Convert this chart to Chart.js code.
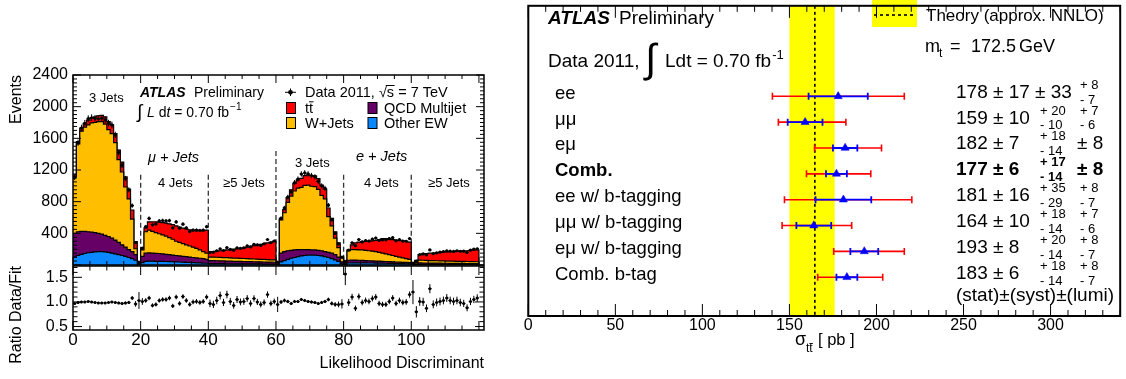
<!DOCTYPE html>
<html>
<head>
<meta charset="utf-8">
<title>ATLAS Preliminary – Likelihood discriminant and ttbar cross-section</title>
<script src="https://cdn.jsdelivr.net/npm/chart.js@4.4.1/dist/chart.umd.min.js"></script>
<style>
  html, body { margin: 0; padding: 0; background: #fff; }
  body { width: 1126px; height: 379px; position: relative; overflow: hidden; }
  canvas { position: absolute; }
</style>
</head>
<body>
<canvas id="histMain" width="490" height="270" style="left:0;top:0"></canvas>
<canvas id="histRatio" width="490" height="117" style="left:0;top:262px"></canvas>
<canvas id="xsec" width="626" height="379" style="left:500px;top:0"></canvas>
<script>
// ======================= LEFT PANEL DATA =======================
// 120 bins of the likelihood discriminant: mu+jets (3j, 4j, >=5j), e+jets (3j, 4j, >=5j)
// Upper edges of each stacked component.
const stackTotal = [
  1140,1560,1730,1790,1830,1860,1870,1885,1890,1870,1810,1770,1660,1450,1300,1115,960,695,295,35,
  210,470,545,545,545,540,535,530,520,510,495,480,465,455,445,440,435,440,435,440,
  165,170,175,180,185,190,195,200,205,210,215,225,235,245,255,260,270,280,290,300,
  40,590,700,850,950,1030,1075,1095,1130,1140,1130,1125,1090,1010,960,720,590,420,280,105,
  30,190,255,280,290,295,300,300,305,310,320,335,335,330,320,315,310,305,300,290,
  20,60,130,140,145,150,150,155,160,165,165,170,170,175,175,180,180,185,190,190
];
const wjetsTop = [
  1120,1530,1690,1740,1770,1795,1800,1810,1810,1780,1710,1660,1545,1330,1175,985,835,580,205,28,
  190,420,440,425,410,395,380,365,345,325,300,285,270,255,240,225,210,190,170,150,
  100,100,98,96,94,92,90,88,86,84,82,80,78,76,74,72,70,68,66,64,
  38,570,660,790,870,935,970,980,1005,1010,995,990,955,880,835,610,495,340,220,85,
  18,180,195,195,190,190,185,180,175,170,160,150,140,130,120,110,100,90,80,70,
  12,35,62,60,58,56,55,54,53,52,50,49,48,47,46,45,44,43,42,41
];
const qcdTop = [
  400,420,425,425,420,415,410,400,390,375,360,340,315,285,255,225,195,170,130,22,
  110,150,152,150,148,145,140,135,130,125,120,115,110,105,100,95,90,85,80,70,
  55,55,54,53,52,50,48,47,46,45,44,43,42,41,40,39,38,37,36,35,
  25,150,170,180,185,190,195,195,195,195,190,190,185,180,170,160,150,130,100,40,
  10,60,62,62,60,58,56,54,52,50,48,46,44,42,40,38,36,34,32,30,
  5,15,26,25,25,24,24,23,23,22,22,21,21,20,20,20,19,19,18,18
];
const otherEWTop = [
  100,120,135,145,155,160,165,168,168,165,160,150,140,130,120,108,95,80,60,10,
  30,45,48,48,47,46,45,44,43,42,40,38,36,34,32,30,28,26,24,22,
  18,18,18,17,17,16,16,15,15,15,14,14,14,13,13,13,12,12,12,12,
  8,40,55,70,85,95,105,115,120,125,125,125,120,115,105,95,80,65,45,15,
  4,25,27,27,27,26,26,25,25,24,24,23,22,21,20,19,18,17,16,15,
  2,5,9,9,9,9,8,8,8,8,8,8,8,7,7,7,7,7,7,7
];
// Data / fit ratio per bin (lower pad)
const ratioDataFit = [
  0.97,0.99,1.00,1.00,1.01,1.00,0.99,0.98,0.98,0.98,0.99,1.00,0.99,0.98,0.97,0.98,0.99,1.08,0.96,1.03,
  1.01,1.03,1.08,0.93,0.95,1.03,1.05,1.05,1.08,0.92,1.10,0.97,1.11,1.03,0.95,1.00,1.01,0.99,1.01,1.10,
  0.97,0.95,1.03,1.13,0.99,1.15,1.01,0.93,1.05,1.00,1.01,1.07,0.97,1.07,1.00,0.95,0.99,1.15,0.97,1.01,
  0.95,1.00,1.03,1.01,0.97,1.01,1.01,1.05,1.03,1.01,1.00,0.99,0.97,0.99,1.01,1.05,0.97,0.95,0.95,0.96,
  1.57,0.99,1.10,0.87,1.11,0.99,1.03,1.01,1.07,1.10,0.97,0.95,0.95,1.01,1.08,0.97,1.03,0.99,1.00,1.15,
  1.20,0.80,1.01,1.00,0.87,1.27,0.95,0.99,1.01,1.03,1.08,1.03,1.01,1.03,0.99,0.97,0.88,1.01,1.05,1.08
];
const regionDividers = [20, 40, 60, 80, 100];
const dividerTops    = [1140, 1140, 1440, 1140, 1140];
const lhXTickLabels  = [0, 20, 40, 60, 80, 100];
const eventTickLabels = [400, 800, 1200, 1600, 2000, 2400];
const ratioTickLabels = [0.5, 1.0, 1.5];

// ======================= RIGHT PANEL DATA =======================
const channels   = ['ee', 'μμ', 'eμ', 'Comb.', 'ee w/ b-tagging', 'μμ w/ b-tagging', 'eμ w/ b-tagging', 'Comb. b-tag'];
const boldRows   = [3];
const xsec       = [178, 159, 182, 177, 181, 164, 193, 183];
const statErr    = [17, 10, 7, 6, 16, 10, 8, 6];
const systUp     = [33, 20, 18, 17, 35, 18, 20, 18];
const systDown   = [33, 10, 14, 14, 29, 14, 14, 14];
const lumiUp     = [8, 7, 8, 8, 8, 7, 8, 8];
const lumiDown   = [7, 6, 8, 8, 7, 6, 7, 7];
const theoryCentral = 164.6;
const theoryLow  = 150;
const theoryHigh = 176;
const xsecTickLabels = [0, 50, 100, 150, 200, 250, 300];

// ======================= COMMON =======================
const FONT = "'Liberation Sans', Arial, Helvetica, sans-serif";
Chart.defaults.font.family = FONT;
Chart.defaults.font.size = 16;
Chart.defaults.color = '#000';
Chart.defaults.animation = false;
Chart.defaults.events = [];
Chart.defaults.plugins.legend.display = false;
Chart.defaults.plugins.tooltip.enabled = false;

const C_TT = '#ff0000', C_W = '#ffbe00', C_QCD = '#660066', C_EW = '#0a88ff';

function put(ctx, s, x, y, size, style = '', color = '#000') {
  ctx.font = (style ? style + ' ' : '') + size + 'px ' + FONT;
  ctx.fillStyle = color;
  ctx.textAlign = 'left';
  ctx.textBaseline = 'alphabetic';
  ctx.fillText(s, x, y);
  return x + ctx.measureText(s).width;
}

// ROOT-like frame with inward ticks on all sides
const rootAxes = {
  id: 'rootAxes',
  afterDatasetsDraw(chart, args, o) {
    const {ctx, chartArea: a} = chart;
    const xs = chart.scales.x, ys = chart.scales.y;
    const isMul = (v, m) => Math.abs(v / m - Math.round(v / m)) < 1e-6;
    ctx.save();
    ctx.strokeStyle = '#000';
    ctx.lineWidth = o.tickWidth || 1;
    ctx.beginPath();
    if (o.xMinor) {
      for (let n = Math.ceil(xs.min / o.xMinor - 1e-9); n * o.xMinor <= xs.max + 1e-9; n++) {
        const v = n * o.xMinor, p = xs.getPixelForValue(v);
        const L = isMul(v, o.xMajor) ? o.xMajLen : o.xMinLen;
        ctx.moveTo(p, a.bottom); ctx.lineTo(p, a.bottom - L);
        ctx.moveTo(p, a.top); ctx.lineTo(p, a.top + L);
      }
    }
    if (o.yMinor) {
      for (let n = Math.ceil(ys.min / o.yMinor - 1e-9); n * o.yMinor <= ys.max + 1e-9; n++) {
        const v = n * o.yMinor, p = ys.getPixelForValue(v);
        const L = isMul(v, o.yMajor) ? o.yMajLen : o.yMinLen;
        ctx.moveTo(a.left, p); ctx.lineTo(a.left + L, p);
        ctx.moveTo(a.right, p); ctx.lineTo(a.right - L, p);
      }
    }
    ctx.stroke();
    ctx.lineWidth = o.frameWidth || 1.5;
    ctx.strokeRect(a.left, a.top, a.right - a.left, a.bottom - a.top);
    ctx.restore();
  }
};

const mkSteps = arr => arr.map((v, i) => ({x: i, y: v})).concat([{x: arr.length, y: 0}]);
function hBars(vals) {
  const d = [];
  vals.forEach((v, i) => d.push({x: i, y: v}, {x: i + 1, y: v}, {x: i + 1, y: null}));
  return d;
}
function vBars(vals, errs) {
  const d = [];
  vals.forEach((v, i) => d.push({x: i + 0.5, y: v - errs[i]}, {x: i + 0.5, y: v + errs[i]}, {x: i + 0.5, y: null}));
  return d;
}

const dataCounts = stackTotal.map((t, i) => t * ratioDataFit[i]);
const dataErr = dataCounts.map(v => Math.sqrt(v));
const ratioErr = dataErr.map((e, i) => e / stackTotal[i]);

// ======================= LEFT: MAIN PAD =======================
const leftText = {
  id: 'leftText',
  beforeDatasetsDraw(chart) {
    const {ctx, chartArea: a, scales: {x, y}} = chart;
    ctx.save();
    ctx.strokeStyle = '#333';
    ctx.lineWidth = 1.3;
    ctx.setLineDash([5, 3]);
    regionDividers.forEach((d, k) => {
      const px = x.getPixelForValue(d);
      ctx.beginPath();
      ctx.moveTo(px, y.getPixelForValue(dividerTops[k]));
      ctx.lineTo(px, a.bottom);
      ctx.stroke();
    });
    ctx.restore();
  },
  afterDraw(chart) {
    const {ctx} = chart;
    ctx.save();
    put(ctx, 'ATLAS', 140, 97, 14, 'italic bold');
    put(ctx, 'Preliminary', 194, 97, 14);
    put(ctx, '∫', 137, 118, 19);
    let e = put(ctx, 'L', 147, 116.7, 14, 'italic');
    e = put(ctx, ' d', e, 116.7, 14);
    e = put(ctx, 't', e, 116.7, 14, 'italic');
    e = put(ctx, ' = 0.70 fb', e, 116.7, 14);
    put(ctx, '−1', e + 1, 110, 10);
    put(ctx, '3 Jets', 89, 101.7, 13);
    put(ctx, 'μ + Jets', 148, 161.7, 14.5, 'italic');
    put(ctx, '4 Jets', 158, 186.7, 13);
    put(ctx, '≥5 Jets', 223, 186.7, 13);
    put(ctx, '3 Jets', 295, 167.3, 13);
    put(ctx, 'e + Jets', 356, 161, 14.5, 'italic');
    put(ctx, '4 Jets', 364, 186.7, 13);
    put(ctx, '≥5 Jets', 428, 186.7, 13);
    // legend
    ctx.strokeStyle = '#000';
    ctx.lineWidth = 1;
    ctx.beginPath();
    ctx.moveTo(285, 92.3); ctx.lineTo(296, 92.3);
    ctx.moveTo(290.5, 88.5); ctx.lineTo(290.5, 96);
    ctx.stroke();
    ctx.fillStyle = '#000';
    ctx.beginPath(); ctx.arc(290.5, 92.3, 2.4, 0, 2 * Math.PI); ctx.fill();
    e = put(ctx, 'Data 2011, ', 305, 97, 14.5);
    const sq = put(ctx, '√', e, 97, 14.5);
    const se = put(ctx, 's', sq, 97, 14.5);
    ctx.beginPath(); ctx.moveTo(sq - 1, 85.5); ctx.lineTo(se + 0.5, 85.5); ctx.stroke();
    put(ctx, ' = 7 TeV', se, 97, 14.5);
    const boxes = [[286.5, 102.5, C_TT], [368, 102.5, C_QCD], [286.5, 117.5, C_W], [368, 117.5, C_EW]];
    boxes.forEach(([bx, by, c]) => {
      ctx.fillStyle = c; ctx.fillRect(bx, by, 9, 11);
      ctx.strokeStyle = '#000'; ctx.strokeRect(bx, by, 9, 11);
    });
    const t1 = put(ctx, 't', 305, 112.7, 14.5);
    const t2 = put(ctx, 't', t1, 112.7, 14.5);
    ctx.beginPath(); ctx.moveTo(t1, 101.8); ctx.lineTo(t2 + 0.5, 101.8); ctx.stroke();
    put(ctx, 'QCD Multijet', 384, 112.7, 14.5);
    put(ctx, 'W+Jets', 305, 128.3, 14.5);
    put(ctx, 'Other EW', 384, 128.3, 14.5);
    ctx.restore();
  }
};

const stepDs = (label, arr, color, order) => ({
  label, data: mkSteps(arr), stepped: true, fill: 'origin',
  backgroundColor: color, borderColor: '#000', borderWidth: 1.2,
  pointRadius: 0, order
});

new Chart(document.getElementById('histMain'), {
  type: 'line',
  data: {
    datasets: [
      {label: 'Data 2011', data: dataCounts.map((v, i) => ({x: i + 0.5, y: v})), showLine: false,
       pointRadius: 1.6, pointBackgroundColor: '#000', pointBorderWidth: 0, order: 0},
      {label: 'dataX', data: hBars(dataCounts), borderColor: '#000', borderWidth: 1, pointRadius: 0, order: 0},
      {label: 'dataY', data: vBars(dataCounts, dataErr), borderColor: '#000', borderWidth: 1, pointRadius: 0, order: 0},
      stepDs('Other EW', otherEWTop, C_EW, 1),
      stepDs('QCD Multijet', qcdTop, C_QCD, 2),
      stepDs('W+Jets', wjetsTop, C_W, 3),
      stepDs('ttbar', stackTotal, C_TT, 4)
    ]
  },
  options: {
    responsive: false, devicePixelRatio: 1,
    layout: {padding: {top: 75, right: 6, bottom: 5, left: 0}},
    scales: {
      x: {type: 'linear', min: 0, max: 121.5, display: false},
      y: {
        type: 'linear', min: 0, max: 2400,
        grid: {display: false, drawTicks: false}, border: {display: false},
        ticks: {stepSize: 400, padding: 5, font: {size: 16},
                callback: v => eventTickLabels.includes(v) ? String(v) : ''},
        title: {display: true, text: 'Events', align: 'end', font: {size: 16}, padding: {top: 7, bottom: 0}},
        afterFit: s => { s.width = 73; s.paddingTop = 0; s.paddingBottom = 0; }
      }
    },
    plugins: {
      rootAxes: {xMajor: 20, xMinor: 5, xMajLen: 8, xMinLen: 4, yMajor: 400, yMinor: 50, yMajLen: 8, yMinLen: 4, frameWidth: 1.5}
    }
  },
  plugins: [leftText, rootAxes]
});

// ======================= LEFT: RATIO PAD =======================
new Chart(document.getElementById('histRatio'), {
  type: 'line',
  data: {
    datasets: [
      {label: 'ratio', data: ratioDataFit.map((v, i) => ({x: i + 0.5, y: v})), showLine: false,
       pointRadius: 1.5, pointBackgroundColor: '#000', pointBorderWidth: 0, order: 0},
      {label: 'ratioX', data: hBars(ratioDataFit), borderColor: '#000', borderWidth: 1, pointRadius: 0, order: 1},
      {label: 'ratioY', data: vBars(ratioDataFit, ratioErr), borderColor: '#000', borderWidth: 1, pointRadius: 0, order: 1}
    ]
  },
  options: {
    responsive: false, devicePixelRatio: 1,
    layout: {padding: {top: 3, right: 6, bottom: 0, left: 0}},
    scales: {
      x: {
        type: 'linear', min: 0, max: 121.5,
        grid: {display: false, drawTicks: false}, border: {display: false},
        ticks: {stepSize: 20, includeBounds: false, padding: 0, maxRotation: 0, font: {size: 17},
                callback: v => lhXTickLabels.includes(v) ? String(v) : ''},
        title: {display: true, text: 'Likelihood Discriminant', align: 'end', font: {size: 16}, padding: {top: 0, bottom: 6}},
        afterFit: s => { s.height = 49; s.paddingLeft = 0; s.paddingRight = 0; }
      },
      y: {
        type: 'linear', min: 0.43, max: 1.73,
        grid: {display: false, drawTicks: false}, border: {display: false},
        ticks: {stepSize: 0.5, includeBounds: false, padding: 5, font: {size: 16},
                callback: v => ratioTickLabels.some(t => Math.abs(t - v) < 1e-6) ? v.toFixed(1) : ''},
        title: {display: true, text: 'Ratio Data/Fit', align: 'end', font: {size: 16}, padding: {top: 7, bottom: 0}},
        afterFit: s => { s.width = 73; s.paddingTop = 0; s.paddingBottom = 0; }
      }
    },
    plugins: {
      rootAxes: {xMajor: 20, xMinor: 5, xMajLen: 9, xMinLen: 4.5, yMajor: 0.5, yMinor: 0.1, yMajLen: 9, yMinLen: 4.5, frameWidth: 1.5}
    }
  },
  plugins: [rootAxes]
});

// ======================= RIGHT: CROSS-SECTION SUMMARY =======================
const rows = channels.map((_, k) => k);
const totHi = rows.map(k => xsec[k] + Math.hypot(statErr[k], systUp[k], lumiUp[k]));
const totLo = rows.map(k => xsec[k] - Math.hypot(statErr[k], systDown[k], lumiDown[k]));
const statHi = rows.map(k => xsec[k] + statErr[k]);
const statLo = rows.map(k => xsec[k] - statErr[k]);
function rowBars(lo, hi) {
  const d = [];
  rows.forEach(k => d.push({x: lo[k], y: k}, {x: hi[k], y: k}, {x: hi[k], y: null}));
  return d;
}
const OFF = 500;
const X = px => px - OFF;

const rightDeco = {
  id: 'rightDeco',
  beforeDatasetsDraw(chart) {
    const {ctx, chartArea: a, scales: {x}} = chart;
    ctx.save();
    ctx.fillStyle = '#ffff00';
    const l = x.getPixelForValue(theoryLow), r = x.getPixelForValue(theoryHigh);
    ctx.fillRect(l, a.top, r - l, a.bottom - a.top);
    ctx.fillRect(X(872), 0, 45, 27);
    ctx.strokeStyle = '#000';
    ctx.lineWidth = 1.6;
    ctx.setLineDash([3, 3]);
    const c = x.getPixelForValue(theoryCentral);
    ctx.beginPath(); ctx.moveTo(c, a.top); ctx.lineTo(c, a.bottom); ctx.stroke();
    ctx.beginPath(); ctx.moveTo(X(874), 15); ctx.lineTo(X(915), 15); ctx.stroke();
    ctx.restore();
  },
  afterDraw(chart) {
    const {ctx, scales: {y}} = chart;
    ctx.save();
    put(ctx, 'ATLAS', X(548), 24, 19, 'italic bold');
    put(ctx, 'Preliminary', X(619), 24, 19);
    put(ctx, 'Data 2011,', X(548), 67, 19);
    put(ctx, '∫', X(645), 72, 40);
    const e = put(ctx, 'Ldt = 0.70 fb', X(665), 67, 19);
    put(ctx, '-1', e + 1, 59, 13);
    put(ctx, 'Theory (approx. NNLO)', X(926), 21, 17);
    put(ctx, 'm', X(925), 51.7, 18);
    put(ctx, 't', X(939), 57, 12);
    put(ctx, '=', X(950), 51.7, 18);
    put(ctx, '172.5', X(971), 51.7, 18);
    put(ctx, 'GeV', X(1019), 51.7, 18);
    rows.forEach(k => {
      const yr = y.getPixelForValue(k);
      const st = boldRows.includes(k) ? 'bold' : '';
      put(ctx, channels[k], X(555), yr + 2.5, 18.5, st);
      let main = xsec[k] + ' ± ' + statErr[k];
      if (systUp[k] === systDown[k]) main += ' ± ' + systUp[k];
      put(ctx, main, X(956), yr + 1.5, 19, st);
      if (systUp[k] !== systDown[k]) {
        put(ctx, '+ ' + systUp[k], X(1040), yr - 7.5, 13, st);
        put(ctx, '- ' + systDown[k], X(1040), yr + 7.3, 13, st);
      }
      if (lumiUp[k] === lumiDown[k]) {
        put(ctx, '± ' + lumiUp[k], X(1077), yr + 1.5, 19, st);
      } else {
        put(ctx, '+ ' + lumiUp[k], X(1080), yr - 7.5, 13, st);
        put(ctx, '- ' + lumiDown[k], X(1080), yr + 7.3, 13, st);
      }
    });
    put(ctx, '(stat)±(syst)±(lumi)', X(956), 300.7, 19);
    // x-axis title  σ_{tt̄} [ pb ]
    put(ctx, 'σ', X(795), 345, 18);
    const a1 = put(ctx, 't', X(806), 352, 12);
    const a2 = put(ctx, 't', a1, 352, 12);
    ctx.strokeStyle = '#000'; ctx.lineWidth = 0.9;
    ctx.beginPath(); ctx.moveTo(a1, 343.5); ctx.lineTo(a2 + 0.3, 343.5); ctx.stroke();
    put(ctx, '[ pb ]', X(818), 345, 16.5);
    ctx.restore();
  }
};

new Chart(document.getElementById('xsec'), {
  type: 'line',
  data: {
    datasets: [
      {label: 'central', data: rows.map(k => ({x: xsec[k], y: k})), showLine: false,
       pointStyle: 'triangle', pointRadius: 4.7, pointBackgroundColor: '#0000ff', pointBorderColor: '#0000ff', pointBorderWidth: 0.5, order: 0},
      {label: 'stat', data: rowBars(statLo, statHi), borderColor: '#0000ff', borderWidth: 1.8,
       pointStyle: 'line', pointRadius: 3.5, pointRotation: 90, pointBorderColor: '#0000ff', pointBorderWidth: 1.8, order: 1},
      {label: 'total', data: rowBars(totLo, totHi), borderColor: '#ff0000', borderWidth: 1.6,
       pointStyle: 'line', pointRadius: 3.5, pointRotation: 90, pointBorderColor: '#ff0000', pointBorderWidth: 1.6, order: 2}
    ]
  },
  options: {
    responsive: false, devicePixelRatio: 1,
    layout: {padding: {top: 3, right: 5, bottom: 0, left: 28.3}},
    scales: {
      x: {
        type: 'linear', min: 0, max: 340,
        grid: {display: false, drawTicks: false}, border: {display: false},
        ticks: {stepSize: 50, includeBounds: false, padding: 0, maxRotation: 0, font: {size: 16},
                callback: v => xsecTickLabels.includes(v) ? String(v) : ''},
        afterFit: s => { s.height = 63; s.paddingLeft = 0; s.paddingRight = 0; }
      },
      y: {type: 'linear', min: -3.5, max: 8.5, reverse: true, display: false}
    },
    plugins: {
      rootAxes: {xMajor: 50, xMinor: 10, xMajLen: 12, xMinLen: 6, frameWidth: 2}
    }
  },
  plugins: [rightDeco, rootAxes]
});
</script>
</body>
</html>
